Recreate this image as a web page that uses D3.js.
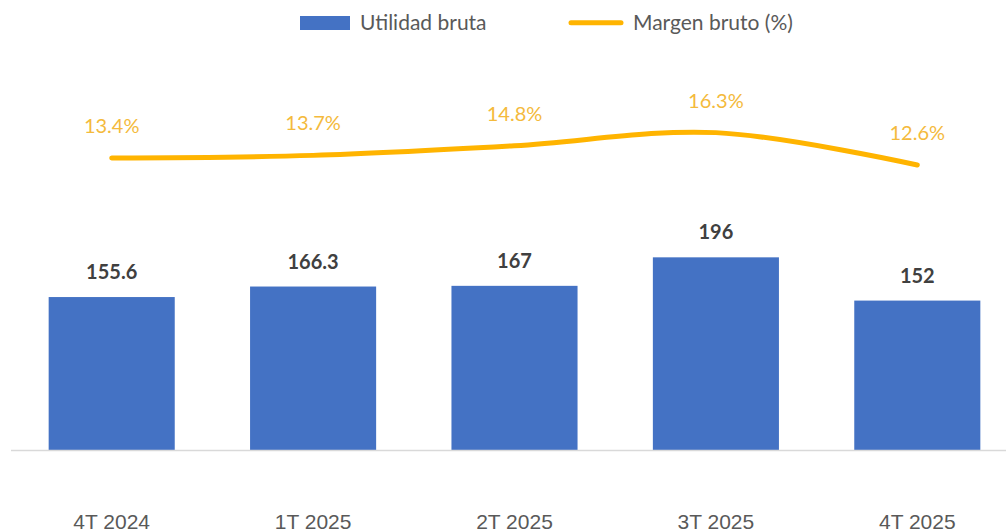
<!DOCTYPE html>
<html>
<head>
<meta charset="utf-8">
<script src="https://cdn.jsdelivr.net/npm/d3@7"></script>
<style>
  body { margin: 0; background: #fff; overflow: hidden; }
  svg { display: block; }
</style>
</head>
<body>
<div id="chart"></div>
<script>
// data
var categories = ["4T 2024", "1T 2025", "2T 2025", "3T 2025", "4T 2025"];
var utilidad = [155.6, 166.3, 167, 196, 152];
var utilidadLabels = ["155.6", "166.3", "167", "196", "152"];
var margen = [13.4, 13.7, 14.8, 16.3, 12.6];

var width = 1006, height = 531;

var svg = d3.select("#chart")
  .append("svg")
  .attr("width", width)
  .attr("height", height);

var x = d3.scaleBand()
  .domain(categories)
  .range([11, 1018])
  .paddingInner(0.374)
  .paddingOuter(0.187);

// bars
var y = d3.scaleLinear().domain([0, 200]).range([450, 253.4]);
// line
var y2 = d3.scaleLinear().domain([12, 17]).range([170.25, 126.5]);

svg.selectAll(".bar")
  .data(categories)
  .enter()
  .append("rect")
  .attr("class", "bar")
  .attr("x", function (d) { return x(d); })
  .attr("y", function (d, i) { return y(utilidad[i]); })
  .attr("width", x.bandwidth())
  .attr("height", function (d, i) { return y(0) - y(utilidad[i]); })
  .style("fill", "#4472C4");

// baseline
svg.append("line")
  .attr("x1", 11).attr("x2", width)
  .attr("y1", y(0) + 0.5).attr("y2", y(0) + 0.5)
  .style("stroke", "#d9d9d9")
  .style("stroke-width", 1.3);

// bar value labels
svg.selectAll(".bar-label")
  .data(categories)
  .enter()
  .append("text")
  .attr("x", function (d) { return x(d) + x.bandwidth() / 2; })
  .attr("y", function (d, i) { return y(utilidad[i]) - 18; })
  .style("text-anchor", "middle")
  .style("font-family", "Lato, 'Open Sans', sans-serif")
  .style("font-weight", "bold")
  .style("font-size", "20px")
  .style("fill", "#404040")
  .text(function (d, i) { return utilidadLabels[i]; });

// margin line
var line = d3.line()
  .x(function (d, i) { return x(categories[i]) + x.bandwidth() / 2; })
  .y(function (d) { return y2(d); })
  .curve(d3.curveCatmullRom.alpha(0.5));

svg.append("path")
  .datum(margen)
  .attr("d", line)
  .style("fill", "none")
  .style("stroke", "#FFB400")
  .style("stroke-width", 5)
  .style("stroke-linecap", "round");

svg.selectAll(".pct-label")
  .data(margen)
  .enter()
  .append("text")
  .attr("x", function (d, i) { return x(categories[i]) + x.bandwidth() / 2; })
  .attr("y", function (d) { return y2(d) - 25; })
  .style("text-anchor", "middle")
  .style("font-family", "Lato, 'Open Sans', sans-serif")
  .style("font-size", "20px")
  .style("fill", "#F4BA3C")
  .text(function (d) { return d.toFixed(1) + "%"; });

// category axis labels (cut at the bottom edge, as in the original)
svg.selectAll(".cat-label")
  .data(categories)
  .enter()
  .append("text")
  .attr("x", function (d) { return x(d) + x.bandwidth() / 2; })
  .attr("y", 529)
  .style("text-anchor", "middle")
  .style("font-family", "'Liberation Sans', Arial, sans-serif")
  .style("font-size", "21px")
  .style("fill", "#595959")
  .text(function (d) { return d; });

// legend
var legend = svg.append("g");
legend.append("rect")
  .attr("x", 300).attr("y", 16)
  .attr("width", 50).attr("height", 14)
  .style("fill", "#4472C4");
legend.append("text")
  .attr("x", 360).attr("y", 30)
  .style("font-family", "Lato, 'Open Sans', sans-serif")
  .style("font-size", "21px")
  .style("fill", "#595959")
  .text("Utilidad bruta");
legend.append("line")
  .attr("x1", 571).attr("x2", 621)
  .attr("y1", 22.7).attr("y2", 22.7)
  .style("stroke", "#FFB400")
  .style("stroke-width", 5)
  .style("stroke-linecap", "round");
legend.append("text")
  .attr("x", 633).attr("y", 30)
  .style("font-family", "Lato, 'Open Sans', sans-serif")
  .style("font-size", "21px")
  .style("fill", "#595959")
  .text("Margen bruto (%)");
</script>
</body>
</html>
